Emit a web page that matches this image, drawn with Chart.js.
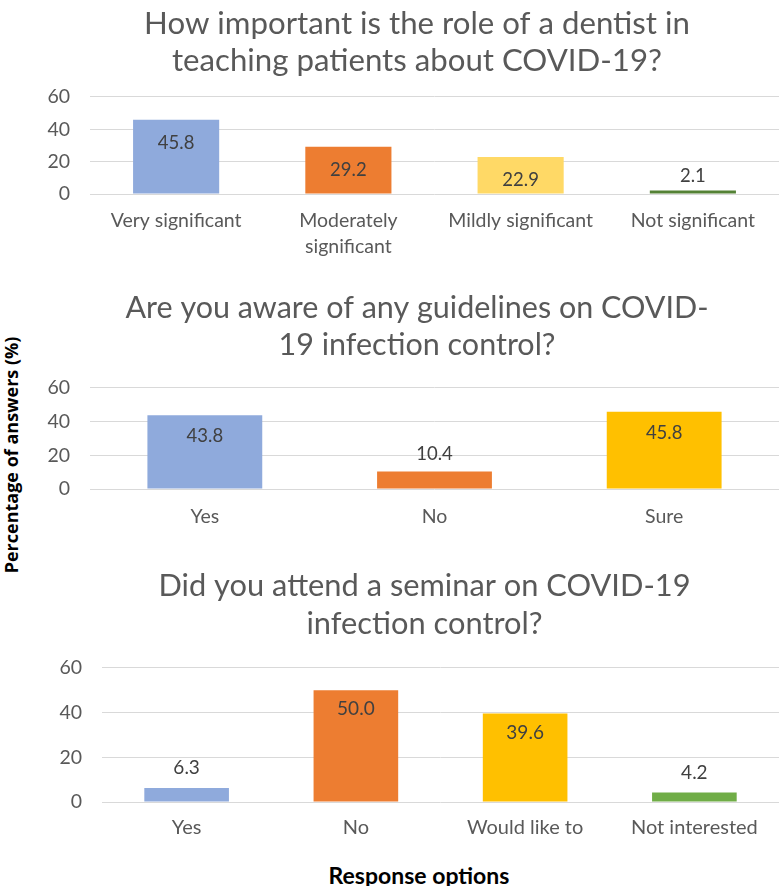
<!DOCTYPE html>
<html>
<head>
<meta charset="utf-8">
<script src="https://cdn.jsdelivr.net/npm/chart.js@4.4.1/dist/chart.umd.min.js"></script>
<style>
  html, body { margin: 0; padding: 0; background: #fff; width: 779px; height: 886px; overflow: hidden; }
  .wrap { position: absolute; }
  #ytitle { position: absolute; left: 11px; top: 455px; transform: translate(-50%, -50%) rotate(-90deg);
    font: bold 18px "Open Sans", sans-serif; color: #000; white-space: nowrap; }
  #xtitle { position: absolute; left: 419px; top: 875px; transform: translate(-50%, -50%);
    font: bold 23px Lato, sans-serif; color: #000; white-space: nowrap; }
</style>
</head>
<body>
<div class="wrap" id="w1" style="left:40px; top:0px; width:739px; height:265px;"><canvas id="c1"></canvas></div>
<div class="wrap" id="w2" style="left:40px; top:270px; width:739px; height:280px;"><canvas id="c2"></canvas></div>
<div class="wrap" id="w3" style="left:55px; top:558px; width:724px; height:290px;"><canvas id="c3"></canvas></div>
<div id="ytitle">Percentage of answers (%)</div>
<div id="xtitle">Response options</div>
<script>
// ---- Data ----
const title1 = ['How important is the role of a dentist in', 'teaching patients about COVID-19?'];
const cats1 = ['Very significant', ['Moderately', 'significant'], 'Mildly significant', 'Not significant'];
const vals1 = [45.8, 29.2, 22.9, 2.1];
const colors1 = ['#8FAADC', '#ED7D31', '#FFD966', '#548235'];

const title2 = ['Are you aware of any guidelines on COVID-', '19 infection control?'];
const cats2 = ['Yes', 'No', 'Sure'];
const vals2 = [43.8, 10.4, 45.8];
const colors2 = ['#8FAADC', '#ED7D31', '#FFC000'];

const title3 = ['Did you attend a seminar on COVID-19', 'infection control?'];
const cats3 = ['Yes', 'No', 'Would like to', 'Not interested'];
const vals3 = [6.3, 50.0, 39.6, 4.2];
const colors3 = ['#8FAADC', '#ED7D31', '#FFC000', '#70AD47'];

const yTicks = [0, 20, 40, 60];

// ---- Value label plugin ----
const valueLabels = {
  id: 'valueLabels',
  afterDatasetsDraw(chart, args, opts) {
    const ctx = chart.ctx;
    const meta = chart.getDatasetMeta(0);
    const data = chart.data.datasets[0].data;
    ctx.save();
    ctx.font = opts.size + 'px Lato, sans-serif';
    ctx.fillStyle = '#404040';
    ctx.textAlign = 'center';
    ctx.textBaseline = 'middle';
    meta.data.forEach((bar, i) => {
      const h = bar.base - bar.y;
      const y = h > 30 ? bar.y + opts.inside : bar.y - opts.outside;
      ctx.fillText(data[i].toFixed(1), bar.x, y);
    });
    ctx.restore();
  }
};

function makeChart(id, title, cats, vals, colors, o) {
  return new Chart(document.getElementById(id), {
    type: 'bar',
    data: { labels: cats, datasets: [{ data: vals, backgroundColor: colors, borderWidth: 0,
      barPercentage: 0.5, categoryPercentage: 1.0 }] },
    plugins: [valueLabels],
    options: {
      responsive: true, maintainAspectRatio: false, animation: false,
      layout: { padding: { left: 15, right: 0, top: 0, bottom: 0 } },
      plugins: {
        legend: { display: false }, tooltip: { enabled: false },
        title: { display: true, text: title, color: '#595959',
          font: { family: 'Lato', size: o.titleSize, weight: 'normal', lineHeight: o.titleLH },
          padding: { top: o.titleTop, bottom: o.titleBottom } },
        valueLabels: { size: o.labelSize, inside: o.inside, outside: o.outside }
      },
      scales: {
        x: {
          afterFit: (s) => { s.height = o.xHeight; },
          grid: { display: false, drawTicks: false }, border: { display: false },
          ticks: { color: '#595959', padding: o.xPad, maxRotation: 0, autoSkip: false,
            font: { family: 'Lato', size: o.tickSize, lineHeight: o.xLH } }
        },
        y: {
          min: 0, max: 60,
          afterBuildTicks: (s) => { s.ticks = yTicks.map(v => ({ value: v })); },
          afterFit: (s) => { s.width = o.yWidth; s._computeLabelArea = () => undefined; },
          grid: { color: '#D9D9D9', lineWidth: 1, drawTicks: false },
          border: { display: false },
          ticks: { color: '#595959', padding: 20, font: { family: 'Lato', size: 19.5 } }
        }
      }
    }
  });
}

makeChart('c1', title1, cats1, vals1, colors1, {
  titleSize: 31.2, titleLH: 1.18, titleTop: 5.5, titleBottom: 17.7, xHeight: 71,
  labelSize: 18.5, inside: 23, outside: 15, xPad: 14, tickSize: 19.5, xLH: 1.33,
  yWidth: 35
});
makeChart('c2', title2, cats2, vals2, colors2, {
  titleSize: 30.5, titleLH: 1.22, titleTop: 19.5, titleBottom: 24, xHeight: 61,
  labelSize: 18.5, inside: 21, outside: 17, xPad: 15, tickSize: 19.5, xLH: 1.33,
  yWidth: 35
});
makeChart('c3', title3, cats3, vals3, colors3, {
  titleSize: 30.8, titleLH: 1.23, titleTop: 9.5, titleBottom: 24.7, xHeight: 46,
  labelSize: 19, inside: 19, outside: 20, xPad: 13, tickSize: 20, xLH: 1.3,
  yWidth: 32
});
</script>
</body>
</html>
